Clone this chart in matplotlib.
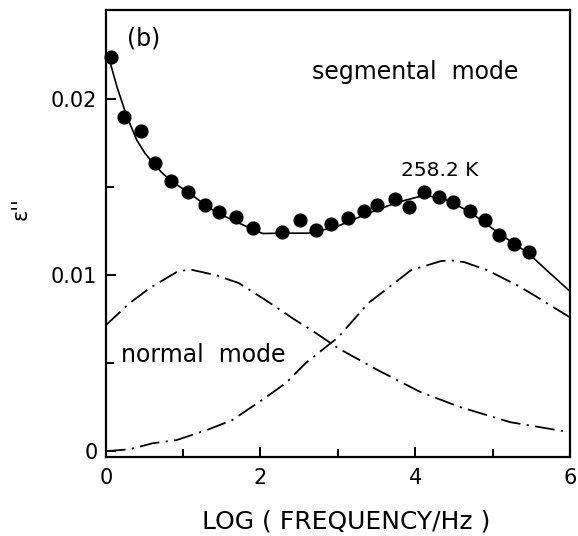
import matplotlib
matplotlib.use("Agg")
import matplotlib.pyplot as plt
from matplotlib.ticker import FixedLocator, FixedFormatter

# measured points (258.2 K)
pt_x = [0.064, 0.231, 0.450, 0.630, 0.848, 1.066, 1.285, 1.465, 1.683, 1.902,
        2.274, 2.505, 2.724, 2.917, 3.135, 3.341, 3.508, 3.739, 3.919, 4.112,
        4.305, 4.484, 4.703, 4.908, 5.088, 5.281, 5.473]
pt_y = [0.02239, 0.01898, 0.01818, 0.01636, 0.01534, 0.01472, 0.01398, 0.01358,
        0.01330, 0.01267, 0.01244, 0.01313, 0.01256, 0.01290, 0.01324, 0.01364,
        0.01398, 0.01432, 0.01386, 0.01472, 0.01443, 0.01415, 0.01364, 0.01313,
        0.01227, 0.01176, 0.01131]

# total fit (solid)
fit_x = [0.0, 0.060, 0.103, 0.145, 0.209, 0.274, 0.338, 0.402, 0.510, 0.617,
         0.723, 0.831, 0.960, 1.088, 1.237, 1.388, 1.538, 1.687, 1.859, 2.030,
         2.274, 2.621, 2.968, 3.392, 3.777, 4.124, 4.381, 4.690, 5.101, 5.461,
         5.743, 6.0]
fit_y = [0.02262, 0.02203, 0.02136, 0.02070, 0.01985, 0.01899, 0.01834, 0.01767,
         0.01691, 0.01635, 0.01584, 0.01540, 0.01502, 0.01464, 0.01416, 0.01369,
         0.01335, 0.01303, 0.01269, 0.01237, 0.01239, 0.01239, 0.01273, 0.01352,
         0.01415, 0.01455, 0.01432, 0.01364, 0.01233, 0.01125, 0.01011, 0.00909]

# normal mode component (dash-dot)
nm_x = [0.0, 0.308, 0.565, 0.912, 1.079, 1.426, 1.722, 2.068, 2.454, 2.660,
        3.006, 3.520, 4.073, 4.587, 5.229, 6.0]
nm_y = [0.00716, 0.00841, 0.00926, 0.01017, 0.01034, 0.01000, 0.00955, 0.00858,
        0.00744, 0.00688, 0.00585, 0.00460, 0.00335, 0.00250, 0.00165, 0.00108]

# segmental mode component (dash-dot)
sm_x = [0.0, 0.308, 0.604, 0.912, 1.297, 1.632, 2.017, 2.325, 2.582, 3.006,
        3.392, 3.944, 4.330, 4.458, 4.638, 4.934, 5.319, 5.538, 5.743, 6.0]
sm_y = [0.0, 0.00011, 0.00045, 0.00063, 0.00119, 0.00176, 0.00290, 0.00386,
        0.00500, 0.00648, 0.00841, 0.01028, 0.01080, 0.01085, 0.01074, 0.01028,
        0.00943, 0.00886, 0.00830, 0.00761]

x_major = [0, 2, 4, 6]
x_minor = [1, 3, 5]
y_major = [0, 0.01, 0.02]
y_major_labels = ["0", "0.01", "0.02"]
y_minor = [0.005, 0.015]

fig = plt.figure(figsize=(5.78, 5.36), dpi=100)
ax = fig.add_axes([0.183, 0.147, 0.803, 0.834])

dd = (0, (11, 3.5, 1.2, 3.5))
ax.plot(nm_x, nm_y, color="black", lw=1.3, linestyle=dd)
ax.plot(sm_x, sm_y, color="black", lw=1.3, linestyle=dd)
ax.plot(fit_x, fit_y, color="black", lw=1.2)
ax.plot(pt_x, pt_y, "o", color="black", ms=9.2, clip_on=False)

ax.set_xlim(0, 6)
ax.set_ylim(-0.00034, 0.02506)

ax.xaxis.set_major_locator(FixedLocator(x_major))
ax.xaxis.set_minor_locator(FixedLocator(x_minor))
ax.yaxis.set_major_locator(FixedLocator(y_major))
ax.yaxis.set_major_formatter(FixedFormatter(y_major_labels))
ax.yaxis.set_minor_locator(FixedLocator(y_minor))

ax.tick_params(which="both", direction="in", top=False, right=False, width=1.4,
               labelsize=15, colors="black")
ax.tick_params(which="major", length=7)
ax.tick_params(which="minor", length=5.5)
ax.tick_params(axis="x", pad=8)
ax.tick_params(axis="y", pad=6)
for s in ax.spines.values():
    s.set_linewidth(1.6)

ax.set_xlabel("LOG ( FREQUENCY/Hz )", fontsize=18, labelpad=14)
ax.xaxis.set_label_coords(0.518, -0.117)
fig.text(0.036, 0.61, "ε''", rotation=90, fontsize=15, ha="center", va="center")

ax.text(0.27, 0.02347, "(b)", fontsize=17, ha="left", va="center")
ax.text(2.67, 0.02153, "segmental  mode", fontsize=17, ha="left", va="center")
ax.text(3.82, 0.01595, "258.2 K", fontsize=14.5, ha="left", va="center")
ax.text(0.2, 0.00545, "normal  mode", fontsize=17, ha="left", va="center")

fig.savefig("out.png", dpi=100)
